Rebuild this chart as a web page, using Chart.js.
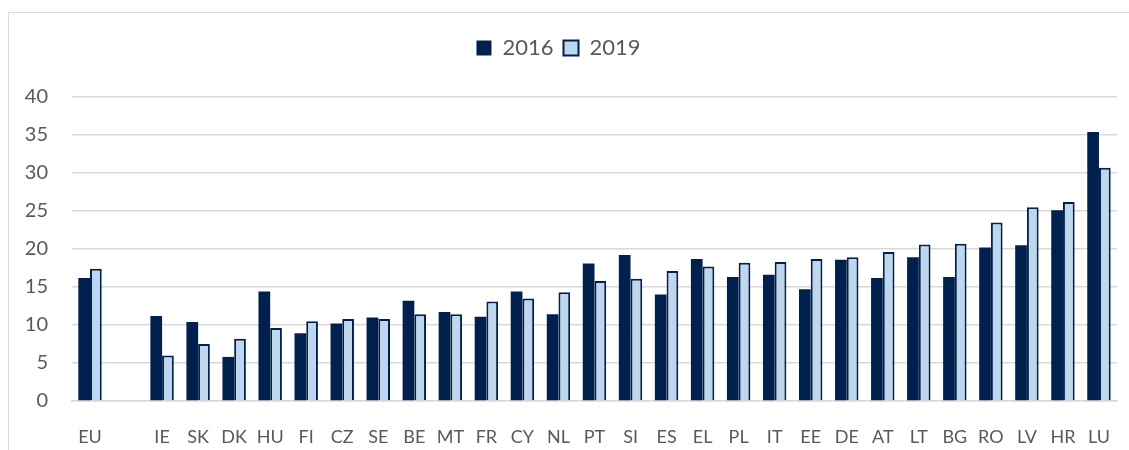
<!DOCTYPE html>
<html>
<head>
<meta charset="utf-8">
<script src="https://cdn.jsdelivr.net/npm/chart.js@4/dist/chart.umd.min.js"></script>
<style>
  html, body { margin: 0; padding: 0; background: #fff; overflow: hidden; }
  #wrap { position: relative; width: 1129px; height: 450px; }
  #frame { position: absolute; left: 8px; top: 12px; width: 1140px; height: 470px;
           border: 1.5px solid #d9d9d9; box-sizing: border-box; }
  canvas { position: absolute; left: 0; top: 0; }
</style>
</head>
<body>
<div id="wrap">
  <div id="frame"></div>
  <canvas id="bar-chartcanvas" width="1129" height="450"></canvas>
</div>
<script>
// country codes (blank slot after EU)
var countries = ["EU", "", "IE", "SK", "DK", "HU", "FI", "CZ", "SE", "BE", "MT", "FR", "CY", "NL",
  "PT", "SI", "ES", "EL", "PL", "IT", "EE", "DE", "AT", "LT", "BG", "RO", "LV", "HR", "LU"];

var values2016 = [16.2, null, 11.2, 10.4, 5.8, 14.4, 8.9, 10.2, 11.0, 13.2, 11.7, 11.1, 14.4, 11.4,
  18.1, 19.2, 14.0, 18.7, 16.3, 16.6, 14.7, 18.6, 16.2, 18.9, 16.3, 20.2, 20.5, 25.1, 35.4];

var values2019 = [17.4, null, 6.0, 7.5, 8.2, 9.6, 10.5, 10.8, 10.8, 11.4, 11.4, 13.1, 13.5, 14.3,
  15.8, 16.1, 17.1, 17.7, 18.2, 18.3, 18.7, 18.9, 19.6, 20.6, 20.7, 23.5, 25.5, 26.2, 30.7];

var yTicks = [0, 5, 10, 15, 20, 25, 30, 35, 40];

var navy = "#00204e";
var lightBlue = "#bdd7ee";
var textGray = "#595959";
var gridGray = "#d9d9d9";
var fontFamily = "Lato, 'Open Sans', sans-serif";

// push the plot down under the legend
var legendGap = {
  id: "legendGap",
  beforeInit: function(chart) {
    var fit = chart.legend.fit;
    chart.legend.fit = function() {
      fit.bind(chart.legend)();
      this.height += 28;
    };
  }
};

var ctx = document.getElementById("bar-chartcanvas");

var chart = new Chart(ctx, {
  type: "bar",
  data: {
    labels: countries,
    datasets: [
      {
        label: "2016",
        data: values2016,
        backgroundColor: navy,
        borderColor: navy,
        borderWidth: 0
      },
      {
        label: "2019",
        data: values2019,
        backgroundColor: lightBlue,
        borderColor: navy,
        borderWidth: 2
      }
    ]
  },
  options: {
    responsive: false,
    animation: false,
    datasets: {
      bar: { categoryPercentage: 0.65, barPercentage: 1.0 }
    },
    layout: { padding: { top: 27, right: 12, left: 0, bottom: 0 } },
    plugins: {
      legend: {
        display: true,
        position: "top",
        labels: {
          boxWidth: 15,
          boxHeight: 15,
          padding: 10,
          color: textGray,
          font: { family: fontFamily, size: 22 }
        }
      },
      tooltip: { enabled: false }
    },
    scales: {
      x: {
        grid: { display: false },
        border: { display: true, color: gridGray, width: 1.5 },
        ticks: {
          color: textGray,
          padding: 17,
          autoSkip: false,
          maxRotation: 0,
          font: { family: fontFamily, size: 18 }
        },
        afterFit: function(scale) { scale.height = 49; }
      },
      y: {
        min: 0,
        max: 40,
        afterBuildTicks: function(scale) {
          scale.ticks = yTicks.map(function(v) { return { value: v }; });
        },
        grid: { color: gridGray, lineWidth: 1.5, drawTicks: false },
        border: { display: false },
        ticks: {
          color: textGray,
          padding: 24,
          font: { family: fontFamily, size: 20 }
        },
        afterFit: function(scale) { scale.width = 72; }
      }
    }
  },
  plugins: [legendGap]
});
</script>
</body>
</html>
